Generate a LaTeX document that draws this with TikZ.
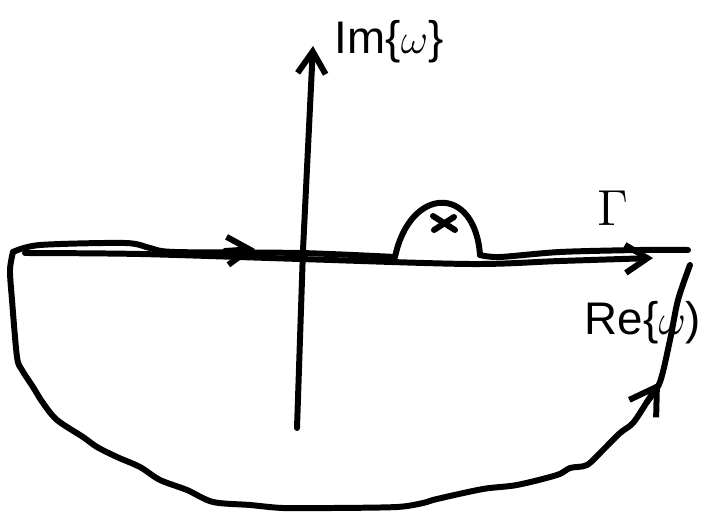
\documentclass[tikz,border=0pt]{standalone}
\usepackage{fontspec}
\setmainfont{Liberation Sans}
\usetikzlibrary{arrows.meta, positioning, calc}
\definecolor{ctInk}{HTML}{000000}
\tikzset{
  ctline/.style={draw=ctInk, line width=1.7pt, line cap=round, line join=round},
  ctarrow/.style={ctline, -{Straight Barb[length=2.2mm, width=2.8mm]}},
  ctlabel/.style={inner sep=0pt, text=ctInk, font=\fontsize{13}{15}\selectfont}
}

\begin{document}
\begin{tikzpicture}[x=0.01cm, y=-0.01cm]
  \useasboundingbox (0,0) rectangle (711,518);
  % axes
  \coordinate (imLow) at (297,428);
  \coordinate (imTop) at (313,46);
  \coordinate (reLeft) at (25,253);
  \coordinate (reRight) at (653,258);
  \draw[ctarrow] (imLow) -- (303,250) -- (imTop);
  \draw[ctarrow] plot[smooth, tension=0.5] coordinates {(reLeft) (140,254) (300,259) (470,264) (560,261) (reRight)};
  \node[ctlabel] (imLabel) at (389,42) {Im\{$\omega$\}};
  \node[ctlabel] (reLabel) at (643,323) {Re\{$\omega$)};
  % pole
  \coordinate (pole) at (444,223);
  \draw[ctline] ($(pole)+(-11,-7)$) -- ($(pole)+(11,7)$);
  \draw[ctline] ($(pole)+(-10,7)$) -- ($(pole)+(10,-6)$);
  % contour
  \coordinate (gLeft) at (13,252);
  \coordinate (gRight) at (688,250);
  \coordinate (bumpL) at (395,257);
  \coordinate (bumpR) at (480,255);
  \draw[ctline] plot[smooth, tension=0.5] coordinates {(gLeft) (40,245) (125,243) (150,248) (175,252) (300,253) (bumpL)};
  \draw[ctline] (bumpL) .. controls (410,186) and (475,184) .. (bumpR);
  \draw[ctline] plot[smooth, tension=0.5] coordinates {(bumpR) (500,257) (560,252) (640,250) (gRight)};
  \draw[ctline] plot[smooth, tension=0.5] coordinates {(690,265) (678,300) (670,340) (660,382) (647,402) (633,423) (620,433) (603,450) (587,465) (570,468) (557,475) (517,485) (483,489) (437,499) (423,503) (397,507) (333,508) (283,508) (250,505) (213,502) (187,490) (160,480) (140,467) (117,457) (97,447) (83,437) (57,420) (43,403) (33,387) (22,370) (17,357) (12,300) (10,270) (gLeft)};
  \coordinate (topA) at (225,251);
  \coordinate (topB) at (255,249);
  \coordinate (sideA) at (647,402);
  \coordinate (sideB) at (660,382);
  \draw[ctarrow] (topA) -- (topB);
  \draw[ctarrow, -{Straight Barb[length=2.6mm, width=3.2mm]}] (sideA) -- (sideB);
  \node[ctlabel, font=\fontsize{14}{16}\selectfont] (gammaLabel) at (613,208) {$\Gamma$};
\end{tikzpicture}
\end{document}
